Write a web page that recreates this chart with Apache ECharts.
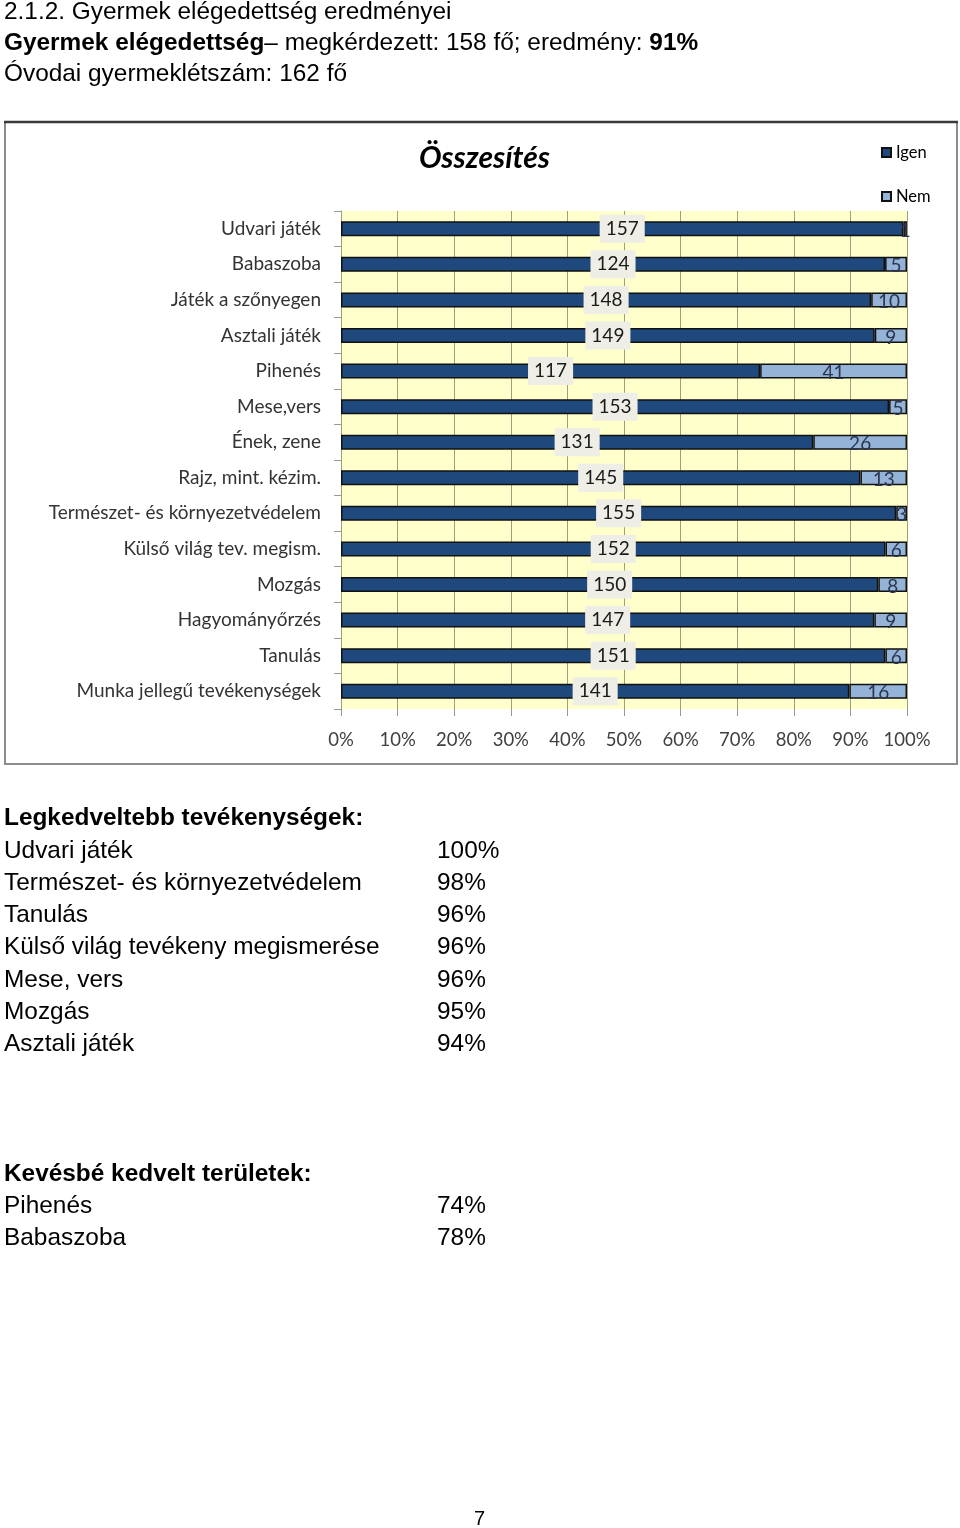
<!DOCTYPE html>
<html>
<head>
<meta charset="utf-8">
<script src="https://cdn.jsdelivr.net/npm/echarts@6/dist/echarts.min.js"></script>
<style>
  html, body { margin: 0; padding: 0; background: #fff; }
  #page { position: relative; width: 960px; height: 1528px; overflow: hidden; }
  #chart { position: absolute; left: 0; top: 0; width: 960px; height: 1528px; }
  .t { position: absolute; font-family: "Liberation Sans", Arial, sans-serif; font-size: 24.4px; line-height: 28px; color: #000; white-space: nowrap; }
  .b { font-weight: bold; }
</style>
</head>
<body>
<div id="page">
  <div id="chart"></div>
  <div class="t" style="left:4px; top:-3px;">2.1.2. Gyermek elégedettség eredményei</div>
  <div class="t" style="left:4px; top:28px;"><span class="b">Gyermek elégedettség</span>– megkérdezett: 158 fő; eredmény: <span class="b">91%</span></div>
  <div class="t" style="left:4px; top:59px;">Óvodai gyermeklétszám: 162 fő</div>

  <div class="t b" style="left:4px; top:803px;">Legkedveltebb tevékenységek:</div>
  <div class="t b" style="left:4px; top:1159px;">Kevésbé kedvelt területek:</div>
  <div class="t" style="left:474px; top:1504px; font-size:20px;">7</div>
</div>
<script>
// ---- chart data ----
const categories = ["Udvari játék", "Babaszoba", "Játék a szőnyegen", "Asztali játék", "Pihenés",
  "Mese,vers", "Ének, zene", "Rajz, mint. kézim.", "Természet- és környezetvédelem",
  "Külső világ tev. megism.", "Mozgás", "Hagyományőrzés", "Tanulás", "Munka jellegű tevékenységek"];
const igen = [157, 124, 148, 149, 117, 153, 131, 145, 155, 152, 150, 147, 151, 141];
const nem  = [1, 5, 10, 9, 41, 5, 26, 13, 3, 6, 8, 9, 6, 16];
const xTicks = [0, 10, 20, 30, 40, 50, 60, 70, 80, 90, 100];

// ---- text lists ----
const favNames = ["Udvari játék", "Természet- és környezetvédelem", "Tanulás", "Külső világ tevékeny megismerése", "Mese, vers", "Mozgás", "Asztali játék"];
const favPct = ["100%", "98%", "96%", "96%", "96%", "95%", "94%"];
const leastNames = ["Pihenés", "Babaszoba"];
const leastPct = ["74%", "78%"];

function addRows(names, pcts, firstTop, step) {
  const page = document.getElementById('page');
  names.forEach((n, i) => {
    const top = Math.round(firstTop + i * step);
    const a = document.createElement('div'); a.className = 't'; a.style.left = '4px'; a.style.top = top + 'px'; a.textContent = n;
    const b = document.createElement('div'); b.className = 't'; b.style.left = '437px'; b.style.top = top + 'px'; b.textContent = pcts[i];
    page.appendChild(a); page.appendChild(b);
  });
}
addRows(favNames, favPct, 835.5, 32.33);
addRows(leastNames, leastPct, 1191, 32.3);

// percentage stack built from counts
const igenPct = igen.map((v, i) => v / (v + nem[i]) * 100);
const nemPct = nem.map((v, i) => v / (igen[i] + v) * 100);

const F = 'Lato, "Open Sans", sans-serif';
const chart = echarts.init(document.getElementById('chart'), null, { renderer: 'canvas' });
chart.setOption({
  animation: false,
  backgroundColor: 'transparent',
  title: {
    text: 'Összesítés', left: 414, top: 138,
    textStyle: { fontFamily: F, fontSize: 30, fontWeight: 'bold', fontStyle: 'italic', color: '#000' }
  },
  legend: {
    orient: 'vertical', left: 876, top: 139, itemWidth: 9, itemHeight: 9, itemGap: 27,
    icon: 'rect',
    textStyle: { fontFamily: F, fontSize: 16.5, color: '#000', padding: [0, 0, 0, 0] },
    data: ['Igen', 'Nem']
  },
  graphic: [
    { type: 'rect', shape: { x: 5, y: 122, width: 952, height: 642 }, style: { fill: 'none', stroke: '#8c8c8c', lineWidth: 2 }, silent: true },
    { type: 'line', shape: { x1: 4, y1: 122, x2: 958, y2: 122 }, style: { stroke: '#3a3a3a', lineWidth: 2.5 }, silent: true }
  ],
  grid: { left: 341, right: 53, top: 211, bottom: 819, show: true, backgroundColor: '#FFFFCC', borderWidth: 0 },
  xAxis: {
    type: 'value', min: 0, max: 100, interval: 10,
    axisLine: { show: false },
    axisTick: { show: true, length: 7, lineStyle: { color: '#9a9a84', width: 1 } },
    splitLine: { show: true, lineStyle: { color: '#a09e7c', width: 1 } },
    axisLabel: { fontFamily: F, fontSize: 18.5, color: '#404040', margin: 22, formatter: v => xTicks.includes(v) ? v + '%' : '' }
  },
  yAxis: {
    type: 'category', inverse: true, data: categories,
    axisLine: { show: true, lineStyle: { color: '#a09e7c', width: 1 } },
    axisTick: { show: true, length: 7, lineStyle: { color: '#9a9a9a' } },
    axisLabel: { fontFamily: F, fontSize: 19, color: '#333', margin: 20 }
  },
  series: [
    {
      name: 'Igen', type: 'bar', stack: 'all', barWidth: 15, data: igenPct,
      itemStyle: { color: '#1F497D', borderColor: '#111', borderWidth: 1.5 },
      label: {
        show: true, position: 'inside', formatter: p => String(igen[p.dataIndex]),
        fontFamily: F, fontSize: 19, color: '#1a1a1a', backgroundColor: '#EEEDE6', padding: [5, 6, 4, 6]
      }
    },
    {
      name: 'Nem', type: 'bar', stack: 'all', barWidth: 15, data: nemPct,
      itemStyle: { color: '#95B3D7', borderColor: '#111', borderWidth: 1.5 },
      label: {
        show: true, position: 'inside', formatter: p => String(nem[p.dataIndex]),
        fontFamily: F, fontSize: 19, color: '#2a3550', offset: [0, 2]
      }
    }
  ]
});
</script>
</body>
</html>
